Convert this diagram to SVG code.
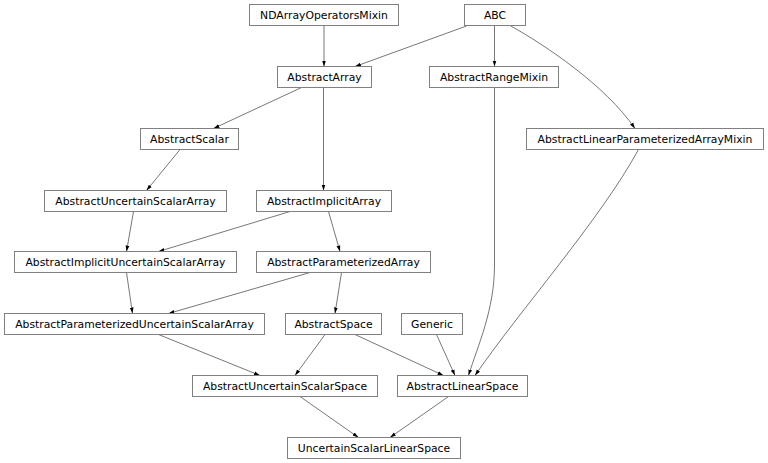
<svg xmlns="http://www.w3.org/2000/svg" width="768" height="463" viewBox="0 0 768 463">
<style>
.n rect{fill:#fff;stroke:#808080;stroke-width:1}
.n text{font-family:"DejaVu Sans",sans-serif;font-size:10.8px;fill:#000;text-anchor:middle}
#edges path{fill:none;stroke:#3c3c3c;stroke-width:0.7;marker-end:url(#ah)}
</style>
<defs>
<marker id="ah" markerUnits="userSpaceOnUse" markerWidth="6" markerHeight="6" viewBox="0 -3 6 6" refX="6" refY="0" orient="auto">
<path d="M0,-1.9 L6,0 L0,1.9 z" fill="#000"/>
</marker>
</defs>
<rect width="768" height="463" fill="#fff"/>
<g id="edges">
<path d="M324,25.5 L324,66.5"/>
<path d="M466.5,26 L355,66.5"/>
<path d="M494.5,25.5 L494.5,66.5"/>
<path d="M510,25.5 C545,45 605,85 635,128.5"/>
<path d="M301.5,87.5 L213.5,128.5"/>
<path d="M323.5,87.5 L323.5,190.5"/>
<path d="M180,149.5 L146.5,190.5"/>
<path d="M133.5,211.5 L126.5,251.5"/>
<path d="M290,211.5 L158.5,251.5"/>
<path d="M328.5,211.5 L340,251.5"/>
<path d="M126.5,272.5 L132.5,313.5"/>
<path d="M310,272.5 L168.5,313.5"/>
<path d="M341.5,272.5 L335,313.5"/>
<path d="M158.5,334.5 L260,375.5"/>
<path d="M325,334.5 L295,375.5"/>
<path d="M355,334.5 L443.5,375.5"/>
<path d="M436.5,334.5 L455,375.5"/>
<path d="M494.5,87.5 L494.5,265 C494.5,310 478,345 468.5,375.5"/>
<path d="M638.5,149.5 C600,220 520,310 475,375.5"/>
<path d="M300,396.5 L358.5,437.5"/>
<path d="M448.5,396.5 L390,437.5"/>
</g>
<g id="NDArrayOperatorsMixin" class="n"><rect x="249.5" y="4.5" width="149" height="21"/><text x="324" y="18.8">NDArrayOperatorsMixin</text></g>
<g id="ABC" class="n"><rect x="464.5" y="4.5" width="61" height="21"/><text x="495" y="18.8">ABC</text></g>
<g id="AbstractArray" class="n"><rect x="277.5" y="66.5" width="94" height="21"/><text x="324.5" y="80.8">AbstractArray</text></g>
<g id="AbstractRangeMixin" class="n"><rect x="429.5" y="66.5" width="129" height="21"/><text x="494" y="80.8">AbstractRangeMixin</text></g>
<g id="AbstractScalar" class="n"><rect x="140.5" y="128.5" width="98" height="21"/><text x="189.5" y="142.8">AbstractScalar</text></g>
<g id="AbstractLinearParameterizedArrayMixin" class="n"><rect x="526.5" y="128.5" width="237" height="21"/><text x="645" y="142.8">AbstractLinearParameterizedArrayMixin</text></g>
<g id="AbstractUncertainScalarArray" class="n"><rect x="44.5" y="190.5" width="182" height="21"/><text x="135.5" y="204.8">AbstractUncertainScalarArray</text></g>
<g id="AbstractImplicitArray" class="n"><rect x="256.5" y="190.5" width="135" height="21"/><text x="324" y="204.8">AbstractImplicitArray</text></g>
<g id="AbstractImplicitUncertainScalarArray" class="n"><rect x="14.5" y="251.5" width="222" height="21"/><text x="125.5" y="265.8">AbstractImplicitUncertainScalarArray</text></g>
<g id="AbstractParameterizedArray" class="n"><rect x="256.5" y="251.5" width="174" height="21"/><text x="343.5" y="265.8">AbstractParameterizedArray</text></g>
<g id="AbstractParameterizedUncertainScalarArray" class="n"><rect x="4.5" y="313.5" width="260" height="21"/><text x="134.5" y="327.8">AbstractParameterizedUncertainScalarArray</text></g>
<g id="AbstractSpace" class="n"><rect x="285.5" y="313.5" width="96" height="21"/><text x="333.5" y="327.8">AbstractSpace</text></g>
<g id="Generic" class="n"><rect x="401.5" y="313.5" width="61" height="21"/><text x="432" y="327.8">Generic</text></g>
<g id="AbstractUncertainScalarSpace" class="n"><rect x="192.5" y="375.5" width="185" height="21"/><text x="285" y="389.8">AbstractUncertainScalarSpace</text></g>
<g id="AbstractLinearSpace" class="n"><rect x="397.5" y="375.5" width="130" height="21"/><text x="462.5" y="389.8">AbstractLinearSpace</text></g>
<g id="UncertainScalarLinearSpace" class="n"><rect x="287.5" y="437.5" width="173" height="21"/><text x="374" y="451.8">UncertainScalarLinearSpace</text></g>
</svg>
